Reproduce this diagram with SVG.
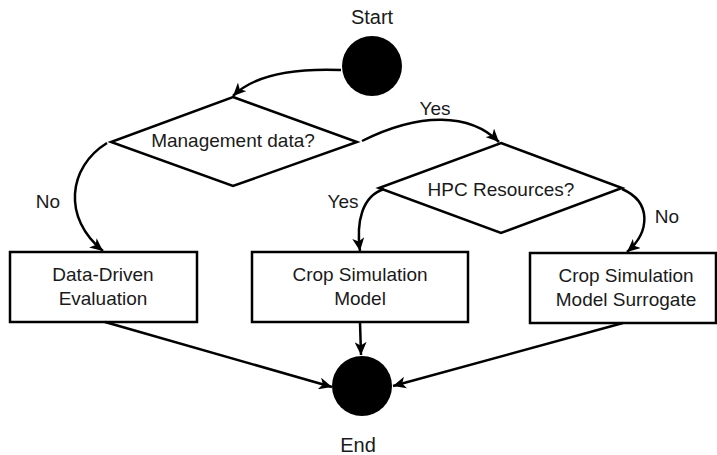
<svg xmlns="http://www.w3.org/2000/svg" width="717" height="455" viewBox="0 0 717 455">
<style>
text{font-family:"Liberation Sans",Arial,sans-serif;font-size:19px;fill:#1a1a1a;text-anchor:middle}
.big{font-size:20px}
.shape{fill:#fff;stroke:#000;stroke-width:2.5}
.dot{fill:#000}
.edge{fill:none;stroke:#000;stroke-width:2.5;marker-end:url(#arr)}
</style>
<defs>
<marker id="arr" markerUnits="userSpaceOnUse" markerWidth="14" markerHeight="12" refX="13" refY="6" orient="auto">
<path d="M0,0 L13,6 L0,12 L3.5,6 z" fill="#000"/>
</marker>
</defs>
<g id="start">
<circle class="dot" cx="372" cy="66" r="30"/>
<text class="big" x="372" y="24">Start</text>
</g>
<g id="management">
<polygon class="shape" points="233,97 357,142 233,186 111,142"/>
<text x="233" y="147">Management data?</text>
</g>
<g id="hpc">
<polygon class="shape" points="501,143 622,188 501,233 379,188"/>
<text x="501" y="196">HPC Resources?</text>
</g>
<g id="datadriven">
<rect class="shape" x="10" y="252" width="187" height="70"/>
<text x="103" y="281">Data-Driven</text>
<text x="103" y="305">Evaluation</text>
</g>
<g id="csm">
<rect class="shape" x="252" y="252" width="216" height="70"/>
<text x="360" y="281">Crop Simulation</text>
<text x="360" y="305">Model</text>
</g>
<g id="surrogate">
<rect class="shape" x="530" y="253" width="186" height="70"/>
<text x="626" y="282">Crop Simulation</text>
<text x="626" y="306">Model Surrogate</text>
</g>
<g id="end">
<circle class="dot" cx="362" cy="386" r="30"/>
<text class="big" x="358" y="452">End</text>
</g>
<g id="connectors">
<path class="edge" d="M341,70 C 290,68 253,76 233,96"/>
<path class="edge" d="M362,141 C 420,112 470,113 499,142"/>
<path class="edge" d="M107,143 C 68,167 62,218 103,251"/>
<path class="edge" d="M384,189 C 362,196 356,222 360,251"/>
<path class="edge" d="M622,189 C 652,202 650,232 627,252"/>
<path class="edge" d="M105,322 L332,387"/>
<path class="edge" d="M360,322 L361,355"/>
<path class="edge" d="M623,323 L393,386"/>
<text x="435" y="115">Yes</text>
<text x="48" y="208">No</text>
<text x="343" y="208">Yes</text>
<text x="667" y="223">No</text>
</g>
</svg>
